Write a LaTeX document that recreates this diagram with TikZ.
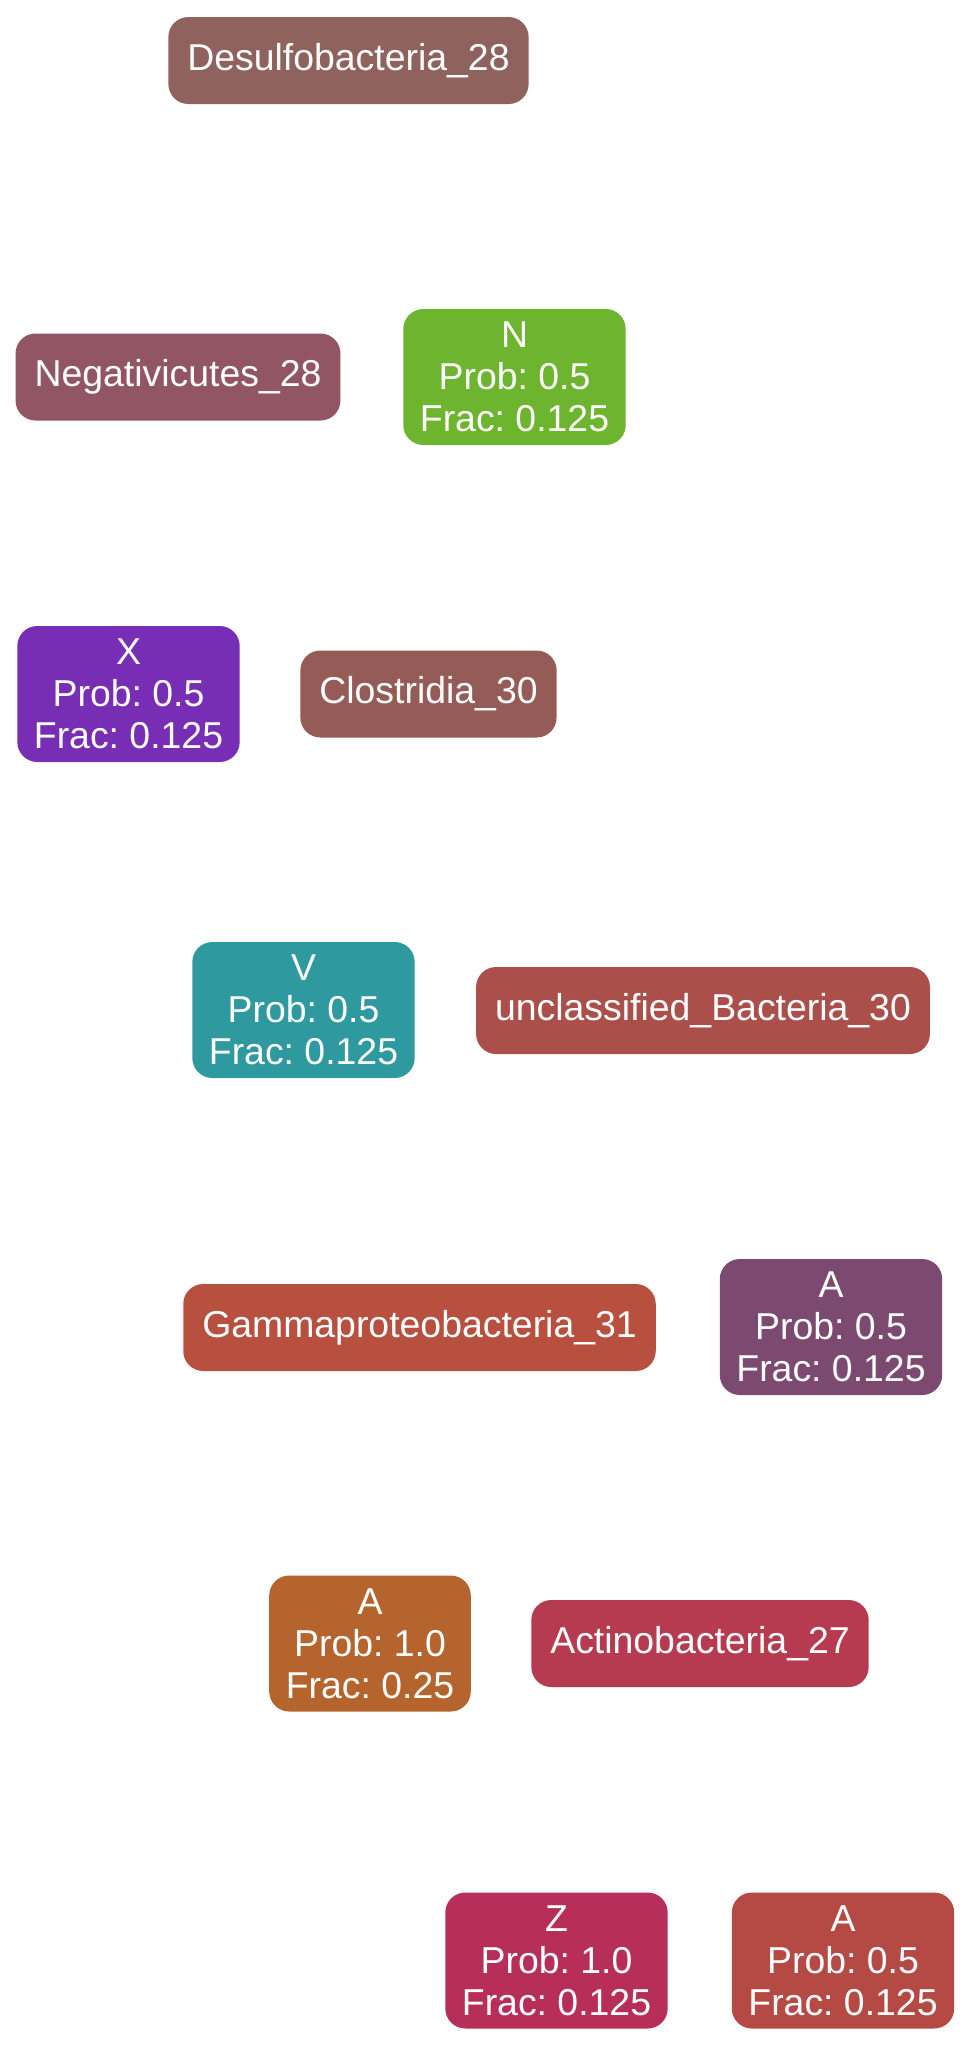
\documentclass[tikz,border=0pt]{standalone}
\usepackage{fontspec}
\setmainfont{Liberation Sans}
\frenchspacing
\definecolor{cdesulfo}{RGB}{143,98,94}
\definecolor{cnegati}{RGB}{146,85,100}
\definecolor{cmotifN}{RGB}{109,181,47}
\definecolor{cmotifX}{RGB}{120,45,181}
\definecolor{cclostr}{RGB}{149,91,86}
\definecolor{cmotifV}{RGB}{46,153,158}
\definecolor{cunclass}{RGB}{170,79,74}
\definecolor{cgamma}{RGB}{183,80,62}
\definecolor{cmotifAa}{RGB}{124,74,112}
\definecolor{cmotifAb}{RGB}{181,100,45}
\definecolor{cactino}{RGB}{182,58,80}
\definecolor{cmotifZ}{RGB}{183,46,90}
\definecolor{cmotifAc}{RGB}{181,74,69}
\tikzset{
  box/.style={rounded corners=10pt, text=white, inner ysep=2pt,
    font=\fontsize{18.7}{21}\selectfont, align=center},
  taxon/.style={box, inner xsep=9.5pt, minimum height=43.5pt},
  motif/.style={box, inner xsep=8.3pt, minimum height=68pt}
}
\begin{document}
\begin{tikzpicture}[x=0.5pt,y=-0.5pt]
\useasboundingbox (0,0) rectangle (972,2046);
% taxa and motifs, one row after the other
\node[taxon, fill=cdesulfo] (desulfo) at (348.5,60.5) {Desulfobacteria\_28};
\node[taxon, fill=cnegati] (negati) at (178,377) {Negativicutes\_28};
\node[motif, fill=cmotifN] (motifN) at (514.5,377) {N\\Prob: 0.5\\Frac: 0.125};
\node[motif, fill=cmotifX] (motifX) at (128.5,694) {X\\Prob: 0.5\\Frac: 0.125};
\node[taxon, fill=cclostr] (clostr) at (428.5,694) {Clostridia\_30};
\node[motif, fill=cmotifV] (motifV) at (303.5,1010) {V\\Prob: 0.5\\Frac: 0.125};
\node[taxon, fill=cunclass] (unclass) at (703,1010.5) {unclassified\_Bacteria\_30};
\node[taxon, fill=cgamma] (gamma) at (419.5,1327.5) {Gammaproteobacteria\_31};
\node[motif, fill=cmotifAa] (motifAa) at (831,1327) {A\\Prob: 0.5\\Frac: 0.125};
\node[motif, fill=cmotifAb] (motifAb) at (370,1643.5) {A\\Prob: 1.0\\Frac: 0.25};
\node[taxon, fill=cactino] (actino) at (700,1643.5) {Actinobacteria\_27};
\node[motif, fill=cmotifZ] (motifZ) at (556.5,1960.5) {Z\\Prob: 1.0\\Frac: 0.125};
\node[motif, fill=cmotifAc] (motifAc) at (843,1960.5) {A\\Prob: 0.5\\Frac: 0.125};
\end{tikzpicture}
\end{document}
